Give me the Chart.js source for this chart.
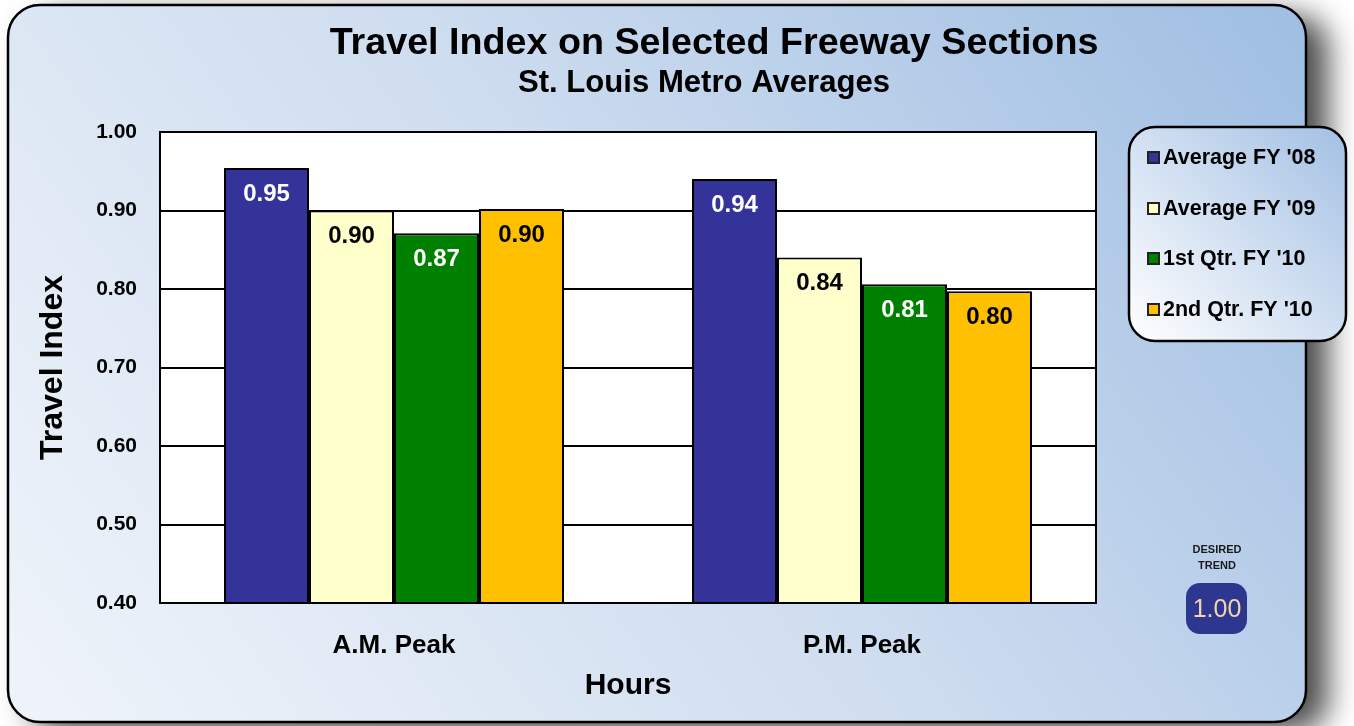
<!DOCTYPE html>
<html><head><meta charset="utf-8">
<script src="https://cdn.jsdelivr.net/npm/chart.js@4.4.0/dist/chart.umd.min.js"></script>
<style>html,body{margin:0;padding:0;background:#fff;overflow:hidden}canvas{display:block}</style>
</head><body><canvas id="c" width="1354" height="726"></canvas>
<script>
const categories = ['A.M. Peak', 'P.M. Peak'];
const seriesNames = ["Average FY '08", "Average FY '09", "1st Qtr. FY '10", "2nd Qtr. FY '10"];
const avgFY08 = [0.954, 0.940];
const avgFY09 = [0.900, 0.840];
const q1FY10 = [0.871, 0.806];
const q2FY10 = [0.902, 0.797];
const yTicks = [0.40, 0.50, 0.60, 0.70, 0.80, 0.90, 1.00];
const chartTitle = 'Travel Index on Selected Freeway Sections';
const chartSubtitle = 'St. Louis Metro Averages';
const desiredTrendLabel = ['DESIRED', 'TREND'];
const desiredTrendValue = '1.00';

const FONT = '"Liberation Sans", Arial, sans-serif';
const colors = ['#333399', '#FFFFCC', '#008000', '#FFC000'];
const labelColors = ['#ffffff', '#000000', '#ffffff', '#000000'];
const seriesValues = [avgFY08, avgFY09, q1FY10, q2FY10];

function rr(ctx, x, y, w, h, r) {
  ctx.beginPath();
  ctx.moveTo(x + r, y);
  ctx.lineTo(x + w - r, y);
  ctx.arcTo(x + w, y, x + w, y + r, r);
  ctx.lineTo(x + w, y + h - r);
  ctx.arcTo(x + w, y + h, x + w - r, y + h, r);
  ctx.lineTo(x + r, y + h);
  ctx.arcTo(x, y + h, x, y + h - r, r);
  ctx.lineTo(x, y + r);
  ctx.arcTo(x, y, x + r, y, r);
  ctx.closePath();
}
function fitFont(ctx, text, weight, target) {
  ctx.font = weight + ' 100px ' + FONT;
  const w = ctx.measureText(text).width;
  return weight + ' ' + (100 * target / w).toFixed(1) + 'px ' + FONT;
}

const backgroundPlugin = {
  id: 'bg',
  beforeDraw(chart) {
    const ctx = chart.ctx;
    ctx.save();
    ctx.fillStyle = '#ffffff';
    ctx.fillRect(0, 0, chart.width, chart.height);
    ctx.save();
    ctx.shadowColor = 'rgba(0,0,0,0.7)';
    ctx.shadowBlur = 30;
    ctx.shadowOffsetX = 22;
    ctx.shadowOffsetY = 10;
    rr(ctx, 8, 5, 1298, 717, 32);
    ctx.fillStyle = '#a4c2e4';
    ctx.fill();
    ctx.restore();
    const g = ctx.createLinearGradient(100, 760, 1250, -100);
    g.addColorStop(0, '#eef3fa');
    g.addColorStop(0.5, '#cddcef');
    g.addColorStop(1, '#9dbde2');
    rr(ctx, 8, 5, 1298, 717, 32);
    ctx.fillStyle = g;
    ctx.fill();
    ctx.lineWidth = 2.5;
    ctx.strokeStyle = '#000';
    ctx.stroke();
    const a = chart.chartArea;
    ctx.fillStyle = '#ffffff';
    ctx.fillRect(a.left, a.top, a.right - a.left, a.bottom - a.top);
    ctx.restore();
  },
  afterDatasetsDraw(chart) {
    const ctx = chart.ctx;
    const a = chart.chartArea;
    ctx.save();
    ctx.lineWidth = 2;
    ctx.strokeStyle = '#000';
    ctx.strokeRect(a.left, a.top, a.right - a.left, a.bottom - a.top);
    ctx.font = 'bold 24px ' + FONT;
    ctx.textAlign = 'center';
    ctx.textBaseline = 'middle';
    chart.data.datasets.forEach((ds, i) => {
      const meta = chart.getDatasetMeta(i);
      meta.data.forEach((bar, j) => {
        ctx.fillStyle = labelColors[i];
        ctx.fillText(ds.data[j].toFixed(2), bar.x, bar.y + 26);
      });
    });
    ctx.restore();
  },
  afterDraw(chart) {
    const ctx = chart.ctx;
    ctx.save();
    ctx.fillStyle = '#000';
    ctx.textAlign = 'center';
    ctx.textBaseline = 'middle';
    ctx.font = fitFont(ctx, chartTitle, 'bold', 768);
    ctx.fillText(chartTitle, 714, 44);
    ctx.font = fitFont(ctx, chartSubtitle, 'bold', 372);
    ctx.fillText(chartSubtitle, 704, 83);

    const lg = ctx.createLinearGradient(1130, 341, 1346, 127);
    lg.addColorStop(0, '#ffffff');
    lg.addColorStop(1, '#a3c0e4');
    rr(ctx, 1129, 127, 217, 214, 26);
    ctx.fillStyle = lg;
    ctx.fill();
    ctx.lineWidth = 2.5;
    ctx.strokeStyle = '#000';
    ctx.stroke();
    const ys = [157, 208, 258, 309];
    ctx.textAlign = 'left';
    chart.data.datasets.forEach((ds, i) => {
      ctx.fillStyle = ds.backgroundColor;
      ctx.fillRect(1148, ys[i] - 5, 11, 11);
      ctx.lineWidth = 2;
      ctx.strokeStyle = '#222';
      ctx.strokeRect(1148, ys[i] - 5, 11, 11);
      ctx.fillStyle = '#000';
      ctx.font = 'bold 21.5px ' + FONT;
      ctx.fillText(ds.label, 1163, ys[i] + 1);
    });

    ctx.textAlign = 'center';
    ctx.fillStyle = '#1a1a1a';
    ctx.font = 'bold 11px ' + FONT;
    ctx.fillText(desiredTrendLabel[0], 1217, 550);
    ctx.fillText(desiredTrendLabel[1], 1217, 566);
    rr(ctx, 1186, 583, 61, 51, 14);
    ctx.fillStyle = '#2e3790';
    ctx.fill();
    ctx.fillStyle = '#f3d4ae';
    ctx.font = '25px ' + FONT;
    ctx.fillText(desiredTrendValue, 1217, 610);
    ctx.restore();
  }
};

new Chart(document.getElementById('c'), {
  type: 'bar',
  data: {
    labels: categories,
    datasets: seriesNames.map((name, i) => ({
      label: name,
      data: seriesValues[i],
      backgroundColor: colors[i],
      borderColor: '#000',
      borderWidth: 2,
      borderSkipped: 'bottom',
      categoryPercentage: 0.7265,
      barPercentage: 1.0
    }))
  },
  options: {
    responsive: false,
    animation: false,
    devicePixelRatio: 1,
    layout: { padding: { left: 30, top: 132, right: 258, bottom: 18 } },
    plugins: { legend: { display: false }, title: { display: false }, tooltip: { enabled: false } },
    scales: {
      x: {
        grid: { display: false, drawTicks: false },
        border: { display: false },
        ticks: { color: '#000', font: { family: FONT, size: 26, weight: 'bold' }, padding: 27 },
        title: { display: true, text: 'Hours', color: '#000', font: { family: FONT, size: 30, weight: 'bold' } },
        afterFit(scale) { scale.height = 105; }
      },
      y: {
        min: 0.4, max: 1.0,
        afterBuildTicks(scale) { scale.ticks = yTicks.map(v => ({ value: v })); },
        grid: { color: '#000', lineWidth: 2, drawTicks: false },
        border: { display: false },
        ticks: { color: '#000', font: { family: FONT, size: 21, weight: 'bold' }, padding: 23, callback: v => Number(v).toFixed(2) },
        title: { display: true, text: 'Travel Index', color: '#000', font: { family: FONT, size: 32, weight: 'bold' } },
        afterFit(scale) { scale.width = 130; }
      }
    }
  },
  plugins: [backgroundPlugin]
});
</script>
</body></html>
